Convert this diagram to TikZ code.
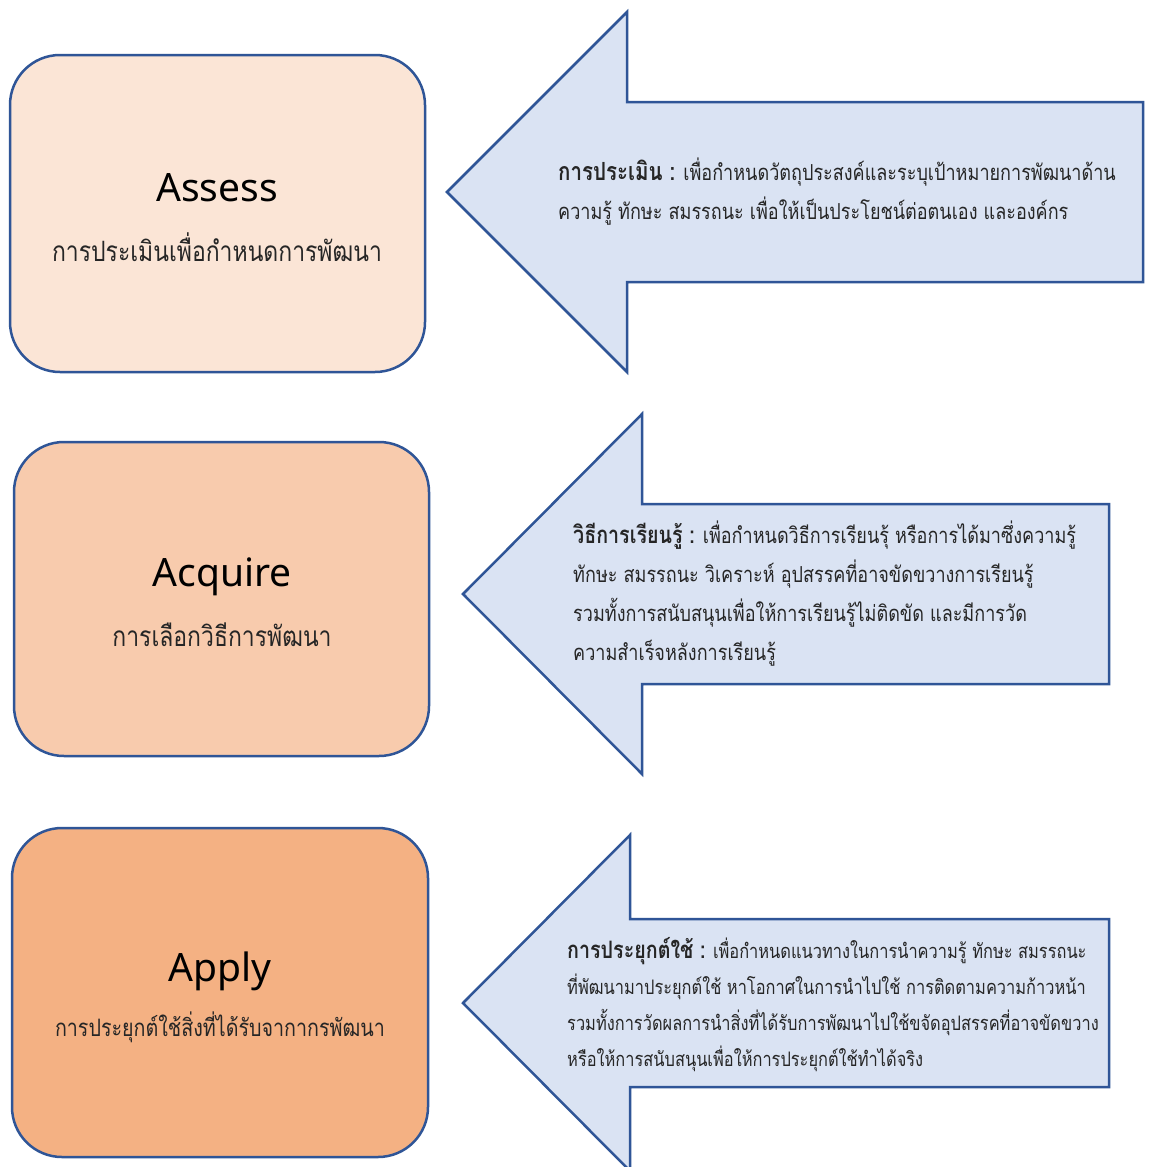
\documentclass[tikz,border=0pt]{standalone}
\usepackage{fontspec}
\newfontfamily\thaifont[Script=Thai,FakeStretch=0.82]{Loma}
\newfontfamily\titlefont{Noto Sans}
\usetikzlibrary{positioning}
\definecolor{edgeblue}{HTML}{2F5597}
\definecolor{arrowfill}{HTML}{DAE3F3}
\definecolor{boxA}{HTML}{FBE5D6}
\definecolor{boxB}{HTML}{F8CBAD}
\definecolor{boxC}{HTML}{F4B183}
\definecolor{thaigray}{HTML}{262626}
% bold lead-in of an arrow text: size, baselineskip, text
\newcommand\arrowlead[3]{{\bfseries\fontsize{#1}{#2}\selectfont #3}}
\tikzset{
  stepbox/.style   = {draw=edgeblue, line width=2.5pt, rounded corners=50pt,
                      minimum width=415pt, inner sep=0pt},
  steptitle/.style = {font=\titlefont\fontsize{39}{44}\selectfont, anchor=base},
  stepsub/.style   = {font=\thaifont\fontsize{28}{32}\selectfont, anchor=base,
                      text=thaigray},
  arrowbox/.style  = {draw=edgeblue, fill=arrowfill, line width=2.5pt,
                      line join=miter},
  arrowtext/.style = {font=\thaifont\fontsize{22}{39}\selectfont, align=left,
                      anchor=west, inner sep=0pt, text=thaigray}
}
\begin{document}
\begin{tikzpicture}[x=1pt,y=-1pt]
\useasboundingbox (0,0) rectangle (1149,1167);
\fill[white] (0,0) rectangle (1149,1167);

% arrows: tip x/tip y/head x/head half/shaft half/right x
\foreach \tx/\ty/\hx/\hh/\sh/\rx in {447/192/627/180/90/1143,
      463/594/642/180/90/1109, 463/1003/630/168/84/1109}
  \draw[arrowbox] (\tx,\ty) -- (\hx,\ty-\hh) -- (\hx,\ty-\sh) -- (\rx,\ty-\sh)
     -- (\rx,\ty+\sh) -- (\hx,\ty+\sh) -- (\hx,\ty+\hh) -- cycle;

% boxes
\node[stepbox, fill=boxA, minimum height=317pt] (assess)  at (217.5,213.5) {};
\node[stepbox, fill=boxB, minimum height=314pt] (acquire) at (221.5,599) {};
\node[stepbox, fill=boxC, minimum height=329pt, minimum width=416pt]
  (apply) at (220,992.5) {};

\node[steptitle] (assess title)  at (217,201) {Assess};
\node[stepsub]   (assess sub)    at (217,261) {การประเมินเพื่อกำหนดการพัฒนา};
\node[steptitle] (acquire title) at (222,586) {Acquire};
\node[stepsub]   (acquire sub)   at (222,646) {การเลือกวิธีการพัฒนา};
\node[steptitle] (apply title)   at (220,981) {Apply};
\node[stepsub, font=\thaifont\fontsize{24}{28}\selectfont]
  (apply sub) at (220,1036) {การประยุกต์ใช้สิ่งที่ได้รับจากากรพัฒนา};

% arrow texts
\node[arrowtext] (assess text) at (558,192)
  {\arrowlead{25}{39}{การประเมิน :} เพื่อกำหนดวัตถุประสงค์และระบุเป้าหมายการพัฒนาด้าน\\
   ความรู้ ทักษะ สมรรถนะ เพื่อให้เป็นประโยชน์ต่อตนเอง และองค์กร};
\node[arrowtext] (acquire text) at (573,594)
  {\arrowlead{24}{39}{วิธีการเรียนรู้ :} เพื่อกำหนดวิธีการเรียนรุ้ หรือการได้มาซึ่งความรู้\\
   ทักษะ สมรรถนะ วิเคราะห์ อุปสรรคที่อาจขัดขวางการเรียนรู้\\
   รวมทั้งการสนับสนุนเพื่อให้การเรียนรู้ไม่ติดขัด และมีการวัด\\
   ความสำเร็จหลังการเรียนรู้};
\node[arrowtext, font=\thaifont\fontsize{20}{36}\selectfont] (apply text) at (567,1005)
  {\arrowlead{24}{36}{การประยุกต์ใช้ :} เพื่อกำหนดแนวทางในการนำความรู้ ทักษะ สมรรถนะ\\
   ที่พัฒนามาประยุกต์ใช้ หาโอกาศในการนำไปใช้ การติดตามความก้าวหน้า\\
   รวมทั้งการวัดผลการนำสิ่งที่ได้รับการพัฒนาไปใช้ขจัดอุปสรรคที่อาจขัดขวาง\\
   หรือให้การสนับสนุนเพื่อให้การประยุกต์ใช้ทำได้จริง};
\end{tikzpicture}
\end{document}
